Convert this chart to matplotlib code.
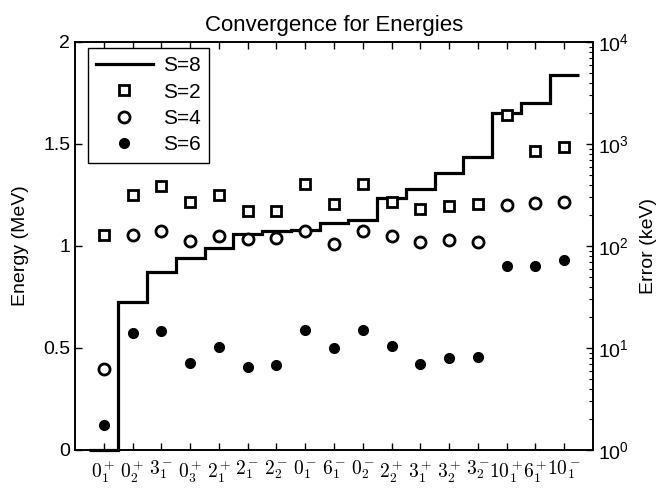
import numpy as np
import matplotlib
matplotlib.use("Agg")
import matplotlib.pyplot as plt
from matplotlib.lines import Line2D

plt.rcParams['font.family'] = ['Liberation Sans', 'DejaVu Sans']
plt.rcParams['mathtext.fontset'] = 'custom'
plt.rcParams['mathtext.rm'] = 'Liberation Sans'
plt.rcParams['mathtext.it'] = 'Liberation Sans:italic'
plt.rcParams['mathtext.bf'] = 'Liberation Sans:bold'

# ---- data ----
states = [r'$0_1^+$', r'$0_2^+$', r'$3_1^-$', r'$0_3^+$', r'$2_1^+$', r'$2_1^-$',
          r'$2_2^-$', r'$0_1^-$', r'$6_1^-$', r'$0_2^-$', r'$2_2^+$', r'$3_1^+$',
          r'$3_2^+$', r'$3_2^-$', r'$10_1^+$', r'$6_1^+$', r'$10_1^-$']
energy_s8 = [0.0, 0.727, 0.871, 0.940, 0.992, 1.057, 1.073, 1.077, 1.113, 1.129,
             1.234, 1.278, 1.360, 1.438, 1.650, 1.699, 1.838]
err_s2 = [128, 316, 390, 268, 316, 219, 222, 403, 260, 408, 272, 231, 248, 258,
          1923, 853, 941]
err_s4 = [6.2, 128, 140, 112, 125, 116, 119, 141, 105, 141, 124, 110, 115, 110,
          252, 266, 272]
err_s6 = [1.76, 13.9, 14.7, 7.08, 10.3, 6.56, 6.81, 15.0, 9.93, 15.1, 10.5, 6.97,
          7.92, 8.10, 63.7, 63.7, 72.9]
left_ticks = [0, 0.5, 1, 1.5, 2]
left_ticklabels = ['0', '0.5', '1', '1.5', '2']
right_ticks = [1, 10, 100, 1000, 10000]
right_ticklabels = [r'$10^{0}$', r'$10^{1}$', r'$10^{2}$', r'$10^{3}$', r'$10^{4}$']

n = len(states)
x = np.arange(1, n + 1)
edges = np.arange(0.5, n + 1, 1.0)

fig = plt.figure(figsize=(6.58, 4.88), dpi=100)
ax1 = fig.add_axes([75 / 658, 1 - 450 / 488, 518 / 658, 408 / 488])
ax2 = ax1.twinx()

ax1.stairs(energy_s8, edges, baseline=None, color='black', lw=2.3, clip_on=False)
ax1.set_xlim(0, 18)
ax1.set_ylim(0, 2)
ax1.set_yticks(left_ticks)
ax1.set_yticklabels(left_ticklabels, fontsize=14)
ax1.set_xticks(x)
ax1.set_xticklabels(states, fontsize=14)
for t in ax1.get_xticklabels():
    t.set_math_fontfamily('cm')
ax1.set_ylabel('Energy (MeV)', fontsize=14, labelpad=10)
ax1.tick_params(axis='both', direction='in', length=5, width=1, top=True, right=False)
ax1.tick_params(axis='x', pad=6)

ax2.set_yscale('log')
ax2.plot(x, err_s2, ls='none', marker='s', ms=6.5, mfc='white', mec='black', mew=2.0)
ax2.plot(x, err_s4, ls='none', marker='o', ms=8, mfc='white', mec='black', mew=2.0)
ax2.plot(x, err_s6, ls='none', marker='o', ms=7, mfc='black', mec='black', mew=1)
ax2.set_ylim(1, 1e4)
ax2.set_xlim(0, 18)
ax2.set_yticks(right_ticks)
ax2.set_yticklabels(right_ticklabels, fontsize=14)
ax2.set_ylabel('Error (keV)', fontsize=14, labelpad=8)
ax2.tick_params(axis='y', which='major', direction='in', length=5, width=1)
ax2.tick_params(axis='y', which='minor', direction='in', length=3, width=0.8)

for ax in (ax1, ax2):
    for s in ax.spines.values():
        s.set_linewidth(1.2)
        s.set_color('black')

ax1.set_title('Convergence for Energies', fontsize=16, pad=8)

handles = [
    Line2D([], [], color='black', lw=2.3),
    Line2D([], [], ls='none', marker='s', ms=6.5, mfc='white', mec='black', mew=2.0),
    Line2D([], [], ls='none', marker='o', ms=8, mfc='white', mec='black', mew=2.0),
    Line2D([], [], ls='none', marker='o', ms=7, mfc='black', mec='black'),
]
leg = ax2.legend(handles, ['S=8', 'S=2', 'S=4', 'S=6'], loc='upper left',
                 bbox_to_anchor=(13 / 518, 1 - 6 / 408), borderaxespad=0,
                 fontsize=15, fancybox=False, framealpha=1, edgecolor='black',
                 handlelength=2.7, labelspacing=0.35, handletextpad=0.5,
                 borderpad=0.4)
leg.get_frame().set_linewidth(1.0)

fig.savefig('out.png', dpi=100)
